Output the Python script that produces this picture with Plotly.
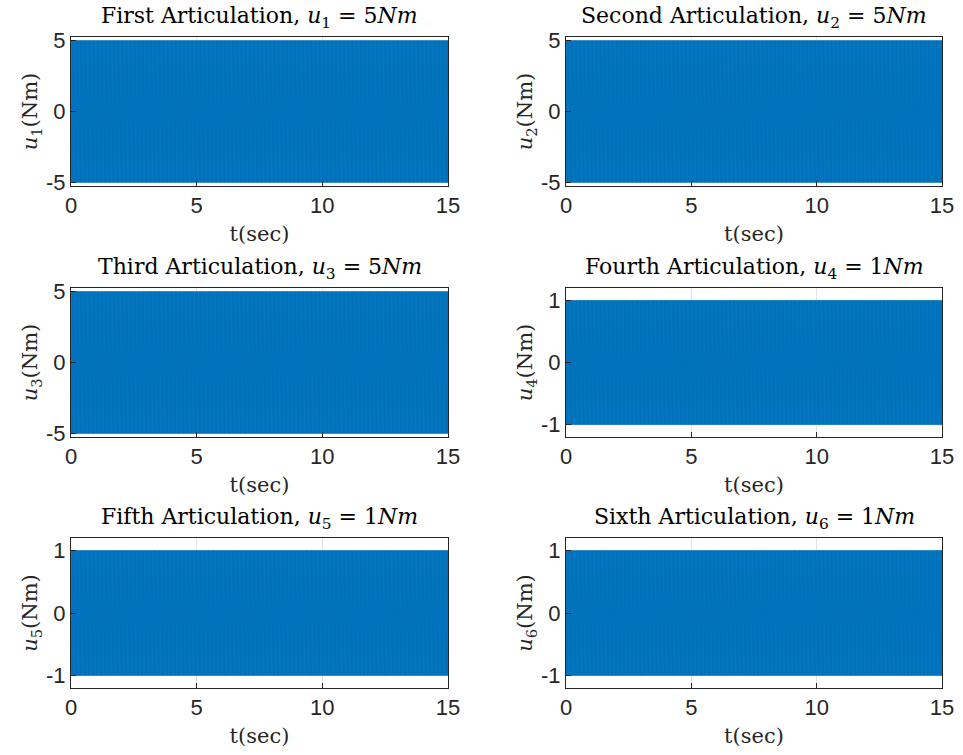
import numpy as np
import plotly.graph_objects as go

# ---- data ----
titles = ["First Articulation", "Second Articulation", "Third Articulation",
          "Fourth Articulation", "Fifth Articulation", "Sixth Articulation"]
u_limits = [5, 5, 5, 1, 1, 1]          # saturation level of each control (Nm)
y_lims = [5.25, 5.25, 5.25, 1.2, 1.2, 1.2]
t_end = 15.0
dt = 0.004                              # controller sample time (s)
x_ticks = [0, 5, 10, 15]

t = np.arange(0, t_end + dt / 2, dt)
switch = np.where(np.arange(t.size) % 2 == 0, 1.0, -1.0)   # bang-bang chattering sign

# ---- layout geometry (pixels) ----
W, H = 963, 755
cols = [(71, 448), (566, 942)]
rows = [(37, 186), (288, 437), (538, 688)]

fig = go.Figure()
serif = "DejaVu Serif, Liberation Serif, serif"
sans = "Liberation Sans, Arial, sans-serif"
annotations = []
for i in range(6):
    r, c = divmod(i, 2)
    x0, x1 = cols[c]
    y0, y1 = rows[r]
    xa = "xaxis" if i == 0 else f"xaxis{i+1}"
    ya = "yaxis" if i == 0 else f"yaxis{i+1}"
    xref = "x" if i == 0 else f"x{i+1}"
    yref = "y" if i == 0 else f"y{i+1}"
    A = u_limits[i]
    fig.add_trace(go.Scatter(x=t, y=A * switch, mode="lines",
                             line=dict(color="#0072BD", width=1),
                             xaxis=xref, yaxis=yref, showlegend=False,
                             hoverinfo="skip"))
    common = dict(showline=True, mirror=True, linecolor="#262626", linewidth=1,
                  ticks="inside", ticklen=5, tickcolor="#262626",
                  showgrid=True, gridcolor="#e3e3e3", gridwidth=1,
                  zeroline=False, automargin=False,
                  tickfont=dict(family=sans, size=22, color="#262626"))
    fig.layout[xa] = dict(domain=[x0 / W, x1 / W], anchor=yref, range=[0, t_end],
                          tickvals=x_ticks, ticktext=[str(v) for v in x_ticks],
                          title=dict(text="t(sec)", font=dict(family=serif, size=21, color="#262626"),
                                     standoff=8),
                          **common)
    yt = [-A, 0, A]
    fig.layout[ya] = dict(domain=[1 - y1 / H, 1 - y0 / H], anchor=xref,
                          range=[-y_lims[i], y_lims[i]],
                          tickvals=yt, ticktext=["-%d" % A, "0", "%d" % A],
                          title=dict(text=f"<i>u</i><sub>{i+1}</sub>(Nm)",
                                     font=dict(family=serif, size=21, color="#262626"),
                                     standoff=2),
                          **common)
    annotations.append(dict(
        text=f"{titles[i]}, <i>u</i><sub>{i+1}</sub> = {A}<i>Nm</i>",
        x=(x0 + x1) / 2 / W, y=1 - (y0 - 3) / H, xref="paper", yref="paper",
        xanchor="center", yanchor="bottom", showarrow=False,
        font=dict(family=serif, size=22, color="#000000")))

fig.update_layout(width=W, height=H, margin=dict(l=0, r=0, t=0, b=0),
                  paper_bgcolor="white", plot_bgcolor="white",
                  annotations=annotations)
fig.write_html("out.html")
